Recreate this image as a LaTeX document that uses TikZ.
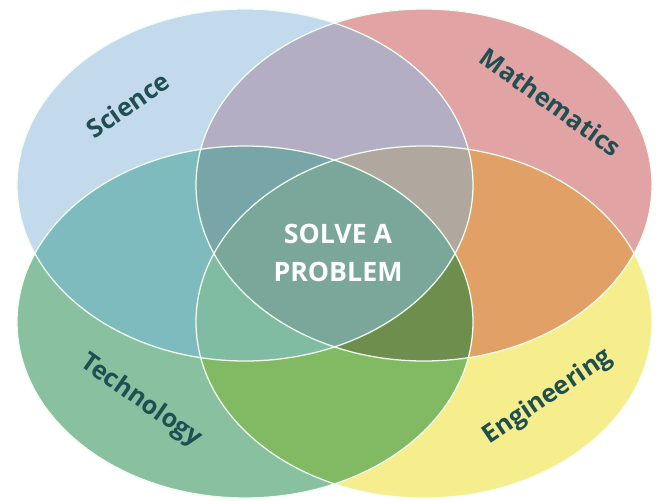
\documentclass[tikz,border=0pt]{standalone}
\usepackage{fontspec}
\setmainfont{Open Sans}
\definecolor{sciblue}{HTML}{C3D9EC}
\definecolor{mathpink}{HTML}{E2A3A4}
\definecolor{techgreen}{HTML}{88C0A0}
\definecolor{engyellow}{HTML}{F6EE8C}
\definecolor{scimath}{HTML}{B3AEC4}
\definecolor{scitech}{HTML}{7EBBBF}
\definecolor{matheng}{HTML}{E0A066}
\definecolor{techeng}{HTML}{82BA64}
\definecolor{scimathtech}{HTML}{78A6A8}
\definecolor{scimatheng}{HTML}{B0A79E}
\definecolor{scitecheng}{HTML}{80BCA2}
\definecolor{mathtecheng}{HTML}{6E8E4E}
\definecolor{allfour}{HTML}{7BA79A}
\definecolor{labelink}{HTML}{1F4F52}

\begin{document}
\begin{tikzpicture}[x=0.025cm,y=0.025cm]
\tikzset{venn/.style={x radius=228,y radius=176},
  rim/.style={draw=white!94!green,line width=0.9pt},
  subject/.style={font=\fontsize{18}{20}\selectfont\bfseries,text=labelink,inner sep=0pt}}
\useasboundingbox (0,0) rectangle (656,-500);
\coordinate (sci) at (245,-185);
\coordinate (math) at (424,-185);
\coordinate (tech) at (245,-322);
\coordinate (eng) at (424,-322);
\fill [sciblue] (sci) ellipse [venn];
\fill [mathpink] (math) ellipse [venn];
\fill [techgreen] (tech) ellipse [venn];
\fill [engyellow] (eng) ellipse [venn];
\begin{scope}
\clip (sci) ellipse [venn];
\fill [scimath] (math) ellipse [venn];
\fill [scitech] (tech) ellipse [venn];
\end{scope}
\begin{scope}
\clip (eng) ellipse [venn];
\fill [matheng] (math) ellipse [venn];
\fill [techeng] (tech) ellipse [venn];
\end{scope}
\begin{scope}
\clip (sci) ellipse [venn];
\clip (math) ellipse [venn];
\fill [scimathtech] (tech) ellipse [venn];
\fill [scimatheng] (eng) ellipse [venn];
\end{scope}
\begin{scope}
\clip (tech) ellipse [venn];
\clip (eng) ellipse [venn];
\fill [scitecheng] (sci) ellipse [venn];
\fill [mathtecheng] (math) ellipse [venn];
\end{scope}
\begin{scope}
\clip (sci) ellipse [venn];
\clip (math) ellipse [venn];
\clip (tech) ellipse [venn];
\fill [allfour] (eng) ellipse [venn];
\end{scope}
\draw [rim] (sci) ellipse [venn];
\draw [rim] (math) ellipse [venn];
\draw [rim] (tech) ellipse [venn];
\draw [rim] (eng) ellipse [venn];
\node [subject,rotate=35] (science) at (128,-105) {Science};
\node [subject,rotate=-35.5] (mathematics) at (551,-102) {Mathematics};
\node [subject,rotate=-35] (technology) at (141,-401) {Technology};
\node [subject,rotate=34] (engineering) at (548,-397) {Engineering};
\node [font=\fontsize{19}{27}\selectfont\bfseries,text=white,align=center] (solve) at (338,-253) {SOLVE A\\PROBLEM};
\end{tikzpicture}
\end{document}
